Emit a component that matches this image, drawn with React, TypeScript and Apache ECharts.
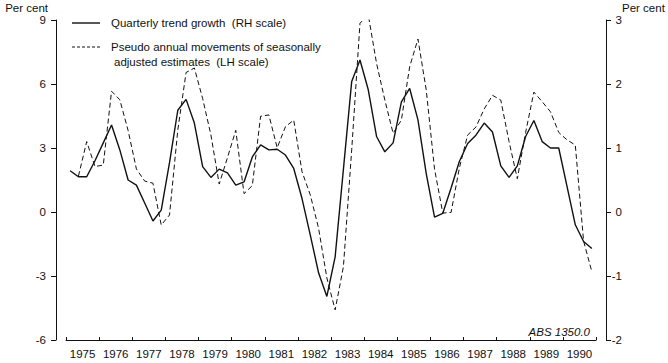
import React, { useEffect, useRef } from "react";
import * as echarts from "echarts";

// Year categories on the horizontal axis
const years = [
  "1975", "1976", "1977", "1978", "1979", "1980", "1981", "1982",
  "1983", "1984", "1985", "1986", "1987", "1988", "1989", "1990",
];

// Tick values of each vertical axis
const leftTicks = [-6, -3, 0, 3, 6, 9];
const rightTicks = [-2, -1, 0, 1, 2, 3];

// Quarterly trend growth (RH scale), from 1975 Q1 to 1990 Q4
const trendGrowth = [
  0.645, 0.55, 0.55, 0.8, 1.08, 1.36, 0.97, 0.5, 0.42, 0.14, -0.14, 0.03,
  0.77, 1.59, 1.76, 1.39, 0.71, 0.54, 0.67, 0.61, 0.42, 0.47, 0.86, 1.05,
  0.97, 0.98, 0.89, 0.68, 0.21, -0.36, -0.95, -1.32, -0.7, 0.67, 2.04, 2.375,
  1.91, 1.18, 0.94, 1.08, 1.72, 1.93, 1.44, 0.6, -0.08, -0.02, 0.375, 0.79,
  1.07, 1.2, 1.39, 1.25, 0.72, 0.54, 0.72, 1.18, 1.43, 1.1, 1.0, 1.0,
  0.4, -0.2, -0.46, -0.57,
];

// Pseudo annual movements of seasonally adjusted estimates (LH scale), from 1975 Q2
const pseudoAnnual = [
  1.68, 3.3, 2.13, 2.2, 5.66, 5.26, 3.82, 2.02, 1.45, 1.35, -0.61,
  -0.14, 3.84, 6.54, 6.75, 5.32, 3.61, 1.31, 2.55, 3.83, 0.86, 1.24, 4.49,
  4.55, 3.01, 4.0, 4.31, 1.89, 0.8, -0.76, -3.09, -4.59, -2.56, 2.91, 8.85,
  9.24, 6.97, 5.25, 3.69, 4.31, 6.81, 8.11, 5.72, 2.02, -0.05, -0.02, 2.06,
  3.61, 3.98, 4.83, 5.47, 5.25, 3.3, 1.56, 3.73, 5.62, 5.17, 4.7, 3.73,
  3.38, 3.14, -1.36, -2.8,
];

const firstYear = Number(years[0]);
const lastYear = Number(years[years.length - 1]) + 1;
// decimal-year position of the middle of a quarter, counted from Q1 of the first year
const quarterTime = (q: number) => firstYear + (q + 0.5) / 4;

const FONT = "'Liberation Sans', Arial, Helvetica, sans-serif";
const INK = "#111";

export default function App() {
  const ref = useRef<HTMLDivElement>(null);

  useEffect(() => {
    if (!ref.current) return;
    const chart = echarts.init(ref.current, undefined, { renderer: "svg" });

    const trendData = trendGrowth.map((v, i) => [quarterTime(i), v]);
    const pseudoData = pseudoAnnual.map((v, i) => [quarterTime(i + 1), v]);

    const labelStyle = { color: INK, fontSize: 11.5, fontFamily: FONT };

    chart.setOption({
      animation: false,
      backgroundColor: "#fff",
      textStyle: { fontFamily: FONT, color: INK },
      grid: { left: 66, right: 72, top: 20, bottom: 23, outerBoundsMode: "none" },
      xAxis: [
        {
          type: "category",
          data: years,
          boundaryGap: true,
          position: "bottom",
          axisLine: { show: true, onZero: false, lineStyle: { color: INK, width: 1 } },
          axisTick: { show: true, inside: true, length: 3, lineStyle: { color: INK } },
          axisLabel: { ...labelStyle, margin: 8, interval: 0 },
          splitLine: { show: false },
        },
        { type: "value", min: firstYear, max: lastYear, show: false },
      ],
      yAxis: [
        {
          type: "value",
          position: "left",
          offset: 10,
          min: leftTicks[0],
          max: leftTicks[leftTicks.length - 1],
          interval: leftTicks[1] - leftTicks[0],
          name: "Per cent",
          nameLocation: "end",
          nameGap: 12,
          nameTextStyle: { ...labelStyle, align: "right", verticalAlign: "middle", padding: [0, 8, 0, 0] },
          axisLine: { show: true, onZero: false, lineStyle: { color: INK, width: 1 } },
          axisTick: { show: true, inside: false, length: 5, lineStyle: { color: INK } },
          axisLabel: { ...labelStyle, margin: 10 },
          splitLine: { show: false },
        },
        {
          type: "value",
          position: "right",
          offset: 10,
          min: rightTicks[0],
          max: rightTicks[rightTicks.length - 1],
          interval: rightTicks[1] - rightTicks[0],
          name: "Per cent",
          nameLocation: "end",
          nameGap: 12,
          nameTextStyle: { ...labelStyle, align: "left", verticalAlign: "middle", padding: [0, 0, 0, 16] },
          axisLine: { show: true, onZero: false, lineStyle: { color: INK, width: 1 } },
          axisTick: { show: true, inside: false, length: 5, lineStyle: { color: INK } },
          axisLabel: { ...labelStyle, margin: 16, align: "right" },
          splitLine: { show: false },
        },
      ],
      series: [
        {
          type: "line",
          name: "Quarterly trend growth (RH scale)",
          xAxisIndex: 1,
          yAxisIndex: 1,
          data: trendData,
          symbol: "none",
          lineStyle: { color: INK, width: 1.4 },
          z: 3,
        },
        {
          type: "line",
          name: "Pseudo annual movements of seasonally adjusted estimates (LH scale)",
          xAxisIndex: 1,
          yAxisIndex: 0,
          data: pseudoData,
          symbol: "none",
          lineStyle: { color: INK, width: 1, type: [5, 3] },
          z: 2,
        },
      ],
      graphic: [
        {
          type: "line",
          shape: { x1: 72, y1: 23, x2: 100, y2: 23 },
          style: { stroke: INK, lineWidth: 1.4 },
        },
        {
          type: "text",
          x: 111,
          y: 23,
          style: {
            text: "Quarterly trend growth  (RH scale)",
            fill: INK,
            font: `11.5px ${FONT}`,
            verticalAlign: "middle",
          },
        },
        {
          type: "line",
          shape: { x1: 72, y1: 47, x2: 100, y2: 47 },
          style: { stroke: INK, lineWidth: 1, lineDash: [3, 2] },
        },
        {
          type: "text",
          x: 111,
          y: 47,
          style: {
            text: "Pseudo annual movements of seasonally",
            fill: INK,
            font: `11.5px ${FONT}`,
            verticalAlign: "middle",
          },
        },
        {
          type: "text",
          x: 114,
          y: 62,
          style: {
            text: "adjusted estimates  (LH scale)",
            fill: INK,
            font: `11.5px ${FONT}`,
            verticalAlign: "middle",
          },
        },
        {
          type: "text",
          right: 78,
          top: 326,
          style: {
            text: "ABS 1350.0",
            fill: INK,
            font: `italic 11.5px ${FONT}`,
          },
        },
      ],
    });

    return () => chart.dispose();
  }, []);

  return (
    <div
      ref={ref}
      style={{ position: "fixed", left: 0, top: 0, width: 668, height: 363, background: "#fff" }}
    />
  );
}
